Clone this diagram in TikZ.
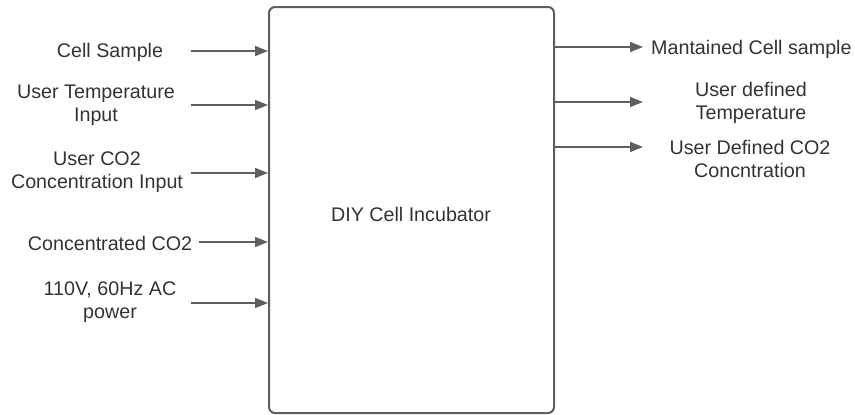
\documentclass[tikz,border=0pt]{standalone}
\usepackage{fontspec}
\setmainfont{Liberation Sans}
\usetikzlibrary{arrows.meta}
\definecolor{ln}{HTML}{5E5E5E}
\definecolor{txt}{HTML}{333333}
\begin{document}
\begin{tikzpicture}[x=1pt,y=-1pt,
  lbl/.style={font=\fontsize{19.7}{23.3}\selectfont, text=txt, align=center, inner sep=0pt},
  conn/.style={draw=ln, line width=1.5pt, -{Triangle[length=13pt,width=10pt]}},
  boxst/.style={draw=ln, line width=2pt, rounded corners=6pt, minimum width=285pt, minimum height=406pt, inner sep=0pt}]
\useasboundingbox (0,0) rectangle (855,415);
\node[boxst] (box) at (411.5,210) {};
\node[lbl] (core) at (411,214) {DIY Cell Incubator};
% inputs
\node[lbl] (l1) at (110,52) {Cell Sample};
\node[lbl] (l2) at (96,105) {User Temperature\\Input};
\node[lbl] (l3) at (97,172) {User CO2\\Concentration Input};
\node[lbl] (l4) at (110,243) {Concentrated CO2};
\node[lbl] (l5) at (110,302) {110V, 60Hz AC\\power};
\coordinate (i1) at (191,51);
\coordinate (i2) at (191,105);
\coordinate (i3) at (191,173);
\coordinate (i4) at (199,242);
\coordinate (i5) at (191,303);
\foreach \i in {1,...,5} \draw[conn] (i\i) -- (i\i -| box.west);
% outputs
\coordinate (o1) at (643,47);
\coordinate (o2) at (643,102);
\coordinate (o3) at (643,147);
\foreach \i in {1,2,3} \draw[conn] (o\i -| box.east) -- (o\i);
\node[lbl, anchor=west] (r1) at (651,49) {Mantained Cell sample};
\node[lbl] (r2) at (751,103) {User defined\\Temperature};
\node[lbl] (r3) at (750,159) {User Defined CO2\\Concntration};
\end{tikzpicture}
\end{document}
